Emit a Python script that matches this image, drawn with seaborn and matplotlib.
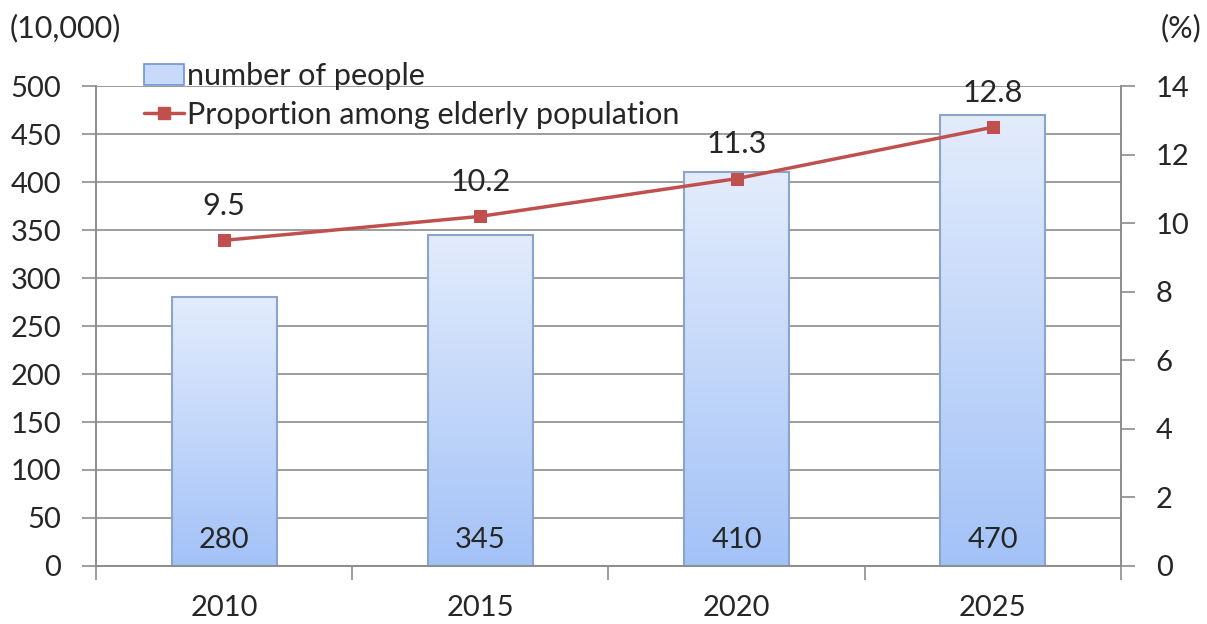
import numpy as np
import pandas as pd
import matplotlib
matplotlib.use("Agg")
import matplotlib.pyplot as plt
import seaborn as sns
from matplotlib.colors import LinearSegmentedColormap
from matplotlib.patches import Patch
from matplotlib.lines import Line2D

years = ["2010", "2015", "2020", "2025"]
people = [280, 345, 410, 470]
proportion = [9.5, 10.2, 11.3, 12.8]
left_ticks = list(range(0, 501, 50))
right_ticks = list(range(0, 15, 2))

sns.set_style("white")
plt.rcParams["font.family"] = ["Lato", "DejaVu Sans"]
FS = 21
FL = 22

fig = plt.figure(figsize=(12.07, 6.24), dpi=100)
ax = fig.add_axes([0.0795, 0.093, 0.8492, 0.769])

df = pd.DataFrame({"year": years, "people": people})
sns.barplot(data=df, x="year", y="people", ax=ax, width=0.41,
            color="#c8dafa", edgecolor="#8aa5c8", linewidth=1.5, zorder=3)

cmap = LinearSegmentedColormap.from_list("g", ["#a3c2f7", "#e3ecfc"])
grad = np.linspace(0, 1, 256).reshape(-1, 1)
for p in ax.patches:
    x0, y0 = p.get_x(), p.get_y()
    w, h = p.get_width(), p.get_height()
    im = ax.imshow(grad, cmap=cmap, origin="lower", aspect="auto",
                   extent=[x0, x0 + w, y0, y0 + h], zorder=3.5)
    im.set_clip_path(p)
    p.set_facecolor("none")
    p.set_zorder(4)
    ax.text(x0 + w / 2, 27, str(int(h)), ha="center", va="center",
            fontsize=FS, zorder=6)

ax.set_xlim(-0.5, 3.5)
ax.set_ylim(0, 500)
ax.set_yticks(left_ticks)
ax.set_xlabel("")
ax.set_ylabel("")
ax.yaxis.grid(True, color="#8c8c8c", linewidth=1.2, zorder=0)
ax.set_axisbelow(True)
ax.tick_params(axis="y", labelsize=FS, length=10, color="#8c8c8c", width=1.2, pad=15, direction="out", left=True)
ax.set_xticks(np.arange(len(years)))
ax.set_xticklabels(years)
ax.set_xticks(np.arange(-0.5, len(years)), minor=True)
ax.tick_params(axis="x", which="major", labelsize=FS, length=0, pad=21)
ax.tick_params(axis="x", which="minor", length=10, color="#8c8c8c", width=1.2, direction="out", bottom=True)
for s in ["left", "right", "bottom"]:
    ax.spines[s].set_color("#8c8c8c")
    ax.spines[s].set_linewidth(1.2)
ax.spines["top"].set_visible(False)

ax2 = ax.twinx()
sns.lineplot(x=np.arange(len(years)), y=proportion, ax=ax2, color="#c0504d",
             linewidth=2.5, marker="s", markersize=9, markeredgecolor="#c0504d", zorder=5)
ax2.set_ylim(0, 14)
ax2.set_yticks(right_ticks)
ax2.tick_params(axis="y", labelsize=FS, length=10, color="#8c8c8c", width=1.2, pad=15, direction="out", right=True)
for s in ["left", "right", "bottom"]:
    ax2.spines[s].set_color("#8c8c8c")
    ax2.spines[s].set_linewidth(1.2)
ax2.spines["top"].set_visible(False)
for i, v in enumerate(proportion):
    ax2.annotate(f"{v}", (i, v), xytext=(0, 25), textcoords="offset points",
                 ha="center", va="center", fontsize=FL)

fig.text(0.008, 0.955, "(10,000)", fontsize=FL, ha="left", va="center")
fig.text(0.995, 0.955, "(%)", fontsize=FL, ha="right", va="center")

handles = [Patch(facecolor="#c8dafa", edgecolor="#6f95d0", linewidth=1.2),
           Line2D([0], [0], color="#c0504d", linewidth=2.5, marker="s", markersize=9)]
ax2.legend(handles, ["number of people", "Proportion among elderly population"],
           loc="upper left", bbox_to_anchor=(0.035, 1.075), frameon=False, fontsize=FL,
           handlelength=1.3, handletextpad=0.12, labelspacing=0.35, borderaxespad=0)

fig.savefig("out.png", dpi=100)
